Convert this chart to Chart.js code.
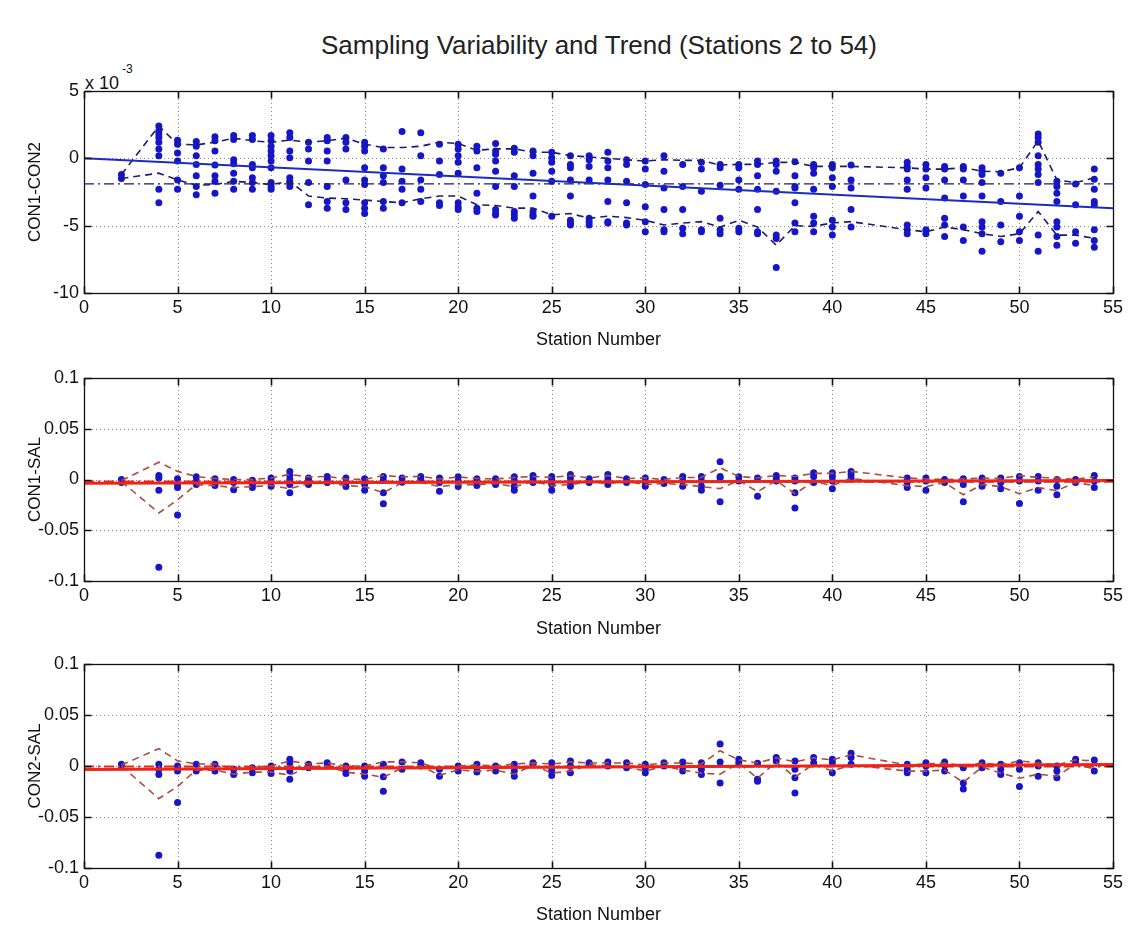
<!DOCTYPE html>
<html>
<head>
<meta charset="utf-8">
<script src="https://cdn.jsdelivr.net/npm/chart.js@4.4.1/dist/chart.umd.min.js"></script>
<style>
  html, body { margin: 0; padding: 0; background: #fff; }
  body { width: 1137px; height: 926px; position: relative; overflow: hidden;
         font-family: "Liberation Sans", Arial, Helvetica, sans-serif; color: #1a1a1a; }
  canvas { position: absolute; left: 0; }
  #title { position: absolute; left: 0; width: 1198px; top: 29px; text-align: center; font-size: 26px; line-height: 32px; color: #222; }
  #expo { position: absolute; left: 85px; top: 67px; font-size: 18px; line-height: 22px; color: #111; }
  #expo sup { font-size: 12px; position: relative; top: -9px; margin-left: 3px; }
</style>
</head>
<body>
<div id="title">Sampling Variability and Trend (Stations 2 to 54)</div>
<div id="expo">x 10<sup>-3</sup></div>
<canvas id="p1" width="1137" height="292" style="top:60px"></canvas>
<canvas id="p2" width="1137" height="288" style="top:352px"></canvas>
<canvas id="p3" width="1137" height="286" style="top:640px"></canvas>
<script>
// Stations sampled (3, 42 and 43 are absent)
const stations = [2,4,5,6,7,8,9,10,11,12,13,14,15,16,17,18,19,20,21,22,23,24,25,26,27,28,29,30,31,32,33,34,35,36,37,38,39,40,41,44,45,46,47,48,49,50,51,52,53,54];
const xTicks = [0,5,10,15,20,25,30,35,40,45,50,55];

// CON1-CON2 differences, in units of 1e-3, one list per station
const c12Points = [
  [-1.2,-1.5],
  [2.4,2.05,1.8,1.55,1.2,0.7,0.2,-2.3,-3.3],
  [1.35,1.05,0.4,-0.2,-1.6,-2.3],
  [1.25,0.9,0.2,-0.45,-1.3,-2.1,-2.7],
  [1.6,1.3,0.55,-0.5,-1.3,-1.7,-2.6],
  [1.7,1.4,-0.1,-0.4,-1.1,-1.7,-2.3],
  [1.7,1.4,-0.45,-0.7,-1.45,-1.8,-2.3],
  [1.7,1.3,0.9,0.55,0.2,-0.2,-0.7,-1.8,-2.1,-2.3],
  [1.9,1.55,0.55,0.05,-1.45,-1.7,-2.1],
  [1.2,0.7,-0.2,-1.8,-3.45],
  [1.55,1.3,0.55,-0.2,-2.1,-3.2,-3.7],
  [1.55,1.2,0.7,-1.6,-3.3,-3.8],
  [1.2,0.9,0.55,-0.7,-1.6,-1.95,-3.3,-3.7,-4.1],
  [0.7,-0.7,-1.3,-1.8,-3.2,-3.7],
  [2.0,-0.8,-1.7,-2.3,-3.3],
  [1.9,0.2,-1.6,-2.3,-3.2],
  [1.05,-0.2,-1.2,-3.3,-3.5],
  [1.05,0.7,0.2,-0.3,-1.1,-3.3,-3.6,-3.8],
  [0.9,0.55,-0.7,-2.6,-3.7,-3.95],
  [1.1,0.55,0.3,-0.2,-0.95,-2.1,-3.8,-4.1,-4.2],
  [0.75,0.45,-1.3,-2.1,-3.95,-4.2,-4.45],
  [0.55,0.2,-1.1,-2.8,-3.95,-4.2,-4.3],
  [0.45,0.05,-0.3,-0.95,-1.7,-4.3],
  [0.2,-0.45,-0.7,-1.6,-2.8,-4.6,-4.8,-4.95],
  [0.2,-0.1,-0.6,-1.6,-4.45,-4.7,-4.95],
  [0.45,-0.2,-0.7,-1.6,-3.2,-4.7,-4.8],
  [-0.1,-0.45,-1.7,-3.3,-4.8,-4.95],
  [-0.2,-0.8,-1.95,-3.6,-4.7,-5.45],
  [0.2,-0.95,-2.2,-3.8,-5.3,-5.45],
  [-0.45,-2.1,-3.8,-5.2,-5.6],
  [-0.3,-0.8,-2.45,-5.3,-5.45],
  [-0.45,-0.7,-2.0,-4.45,-5.3,-5.6],
  [-0.45,-0.7,-1.6,-2.3,-5.2,-5.45],
  [-0.2,-0.45,-1.3,-2.3,-3.8,-5.45,-5.6],
  [-0.2,-0.45,-0.95,-2.45,-5.7,-5.95,-8.1],
  [-0.25,-1.3,-2.1,-2.2,-3.3,-4.8,-5.45],
  [-0.45,-0.7,-1.1,-2.3,-4.3,-4.8,-5.45],
  [-0.45,-0.7,-1.45,-2.1,-4.6,-5.1,-5.7],
  [-0.5,-1.6,-2.2,-3.8,-5.1],
  [-0.3,-0.6,-0.8,-1.6,-2.3,-4.95,-5.3,-5.6],
  [-0.45,-0.8,-1.45,-2.2,-5.3,-5.6],
  [-0.6,-0.8,-1.6,-2.95,-4.45,-4.95,-5.8],
  [-0.6,-0.8,-1.6,-2.8,-5.1,-6.1],
  [-0.7,-0.95,-1.2,-1.8,-2.8,-4.7,-5.1,-5.6,-6.9],
  [-1.1,-3.2,-4.95,-6.2],
  [-0.7,-2.8,-4.3,-5.45,-6.1],
  [1.8,1.55,1.2,0.2,-0.45,-0.8,-1.2,-1.8,-5.7,-6.9],
  [-1.7,-2.1,-2.6,-3.2,-4.7,-5.1,-5.8,-6.45],
  [-1.9,-3.45,-5.45,-6.3],
  [-0.8,-1.55,-2.3,-3.2,-3.45,-5.3,-6.1,-6.6]
];
const c12Upper = [-1.2,2.4,1.05,1.0,1.2,1.5,1.3,1.2,1.35,1.2,1.3,1.5,1.05,0.8,0.8,0.9,1.2,1.1,0.6,0.7,0.7,0.45,0.45,0.2,0.1,0.0,-0.1,-0.2,-0.1,-0.15,-0.15,-0.5,-0.45,-0.45,-0.3,-0.3,-0.6,-0.6,-0.6,-0.7,-0.8,-0.8,-0.7,-0.95,-1.0,-0.7,1.3,-1.6,-1.8,-1.45];
const c12Lower = [-1.5,-1.1,-1.6,-2.0,-1.95,-1.7,-1.8,-1.95,-1.7,-2.8,-2.95,-3.0,-3.1,-3.2,-3.3,-3.0,-2.8,-2.8,-3.45,-3.5,-3.7,-3.7,-4.2,-4.1,-4.45,-4.3,-4.4,-4.6,-4.95,-4.8,-4.7,-5.1,-4.6,-5.1,-6.45,-5.0,-5.05,-4.8,-4.7,-5.3,-5.45,-5.1,-5.3,-5.6,-5.8,-5.6,-3.95,-5.7,-5.7,-5.95];
const c12Mean = -1.9;
const c12Trend = [0.0, -3.7];          // trend at station 0 and 55
const c12YTicks = [-10,-5,0,5];

// CON1-SAL differences per station
const c1sPoints = [
  [0,-0.003],
  [0.004,0.0016,-0.0105,-0.0865],
  [0.0007,-0.005,-0.008,-0.035],
  [0.0026,-0.0016,-0.005],
  [0.0007,-0.003,-0.006],
  [0,-0.003,-0.01],
  [-0.0007,-0.005,-0.008],
  [0.0016,-0.0016,-0.0066],
  [0.008,0.004,0,-0.005,-0.013],
  [0.0016,-0.0016,-0.005],
  [0.003,0,-0.003],
  [0.0016,-0.003,-0.007],
  [0.0007,-0.005,-0.0105],
  [0.003,-0.001,-0.013,-0.024],
  [0.0016,-0.0026],
  [0.003,0],
  [0.0016,-0.003,-0.0115],
  [0.0026,-0.0016,-0.007],
  [0.0007,-0.0016,-0.006],
  [0.0007,-0.0026,-0.005],
  [0.0026,-0.0016,-0.0066,-0.0105],
  [0.004,0.0007,-0.003],
  [0.003,0,-0.005,-0.0105],
  [0.005,0.0016,-0.0026,-0.0066],
  [0.0007,-0.003],
  [0.005,0.0007,-0.005],
  [0.0007,-0.003],
  [0.0016,-0.0026,-0.0066],
  [0,-0.004],
  [0.003,-0.0016,-0.0066],
  [0.003,-0.0016,-0.0066,-0.0105],
  [0.0175,0.003,0.0016,-0.022],
  [0.0026,-0.0016],
  [0.0016,-0.0165],
  [0.004,0.0016,-0.0016],
  [0.0016,-0.0016,-0.013,-0.028],
  [0.0066,0.003,-0.003],
  [0.0066,0.003,-0.0016,-0.009],
  [0.008,0.005,0.0016],
  [0.0016,-0.003,-0.008],
  [0.0016,-0.0016,-0.0105],
  [0,-0.003],
  [0.0007,-0.005,-0.022],
  [0.0016,-0.0016,-0.0066],
  [0.0016,-0.003,-0.009],
  [0.003,-0.0016,-0.0237],
  [0.003,-0.0016,-0.0105],
  [0,-0.0066,-0.015],
  [0,-0.003],
  [0.004,-0.0016,-0.008]
];
const c1sUpper = [-0.001,0.017,0.008,0.003,0.001,0.0,0.0,0.0015,0.005,0.0025,0.003,0.0005,0.0,0.004,0.0025,0.003,0.0005,0.0025,0.001,0.0005,0.002,0.003,0.002,0.004,0.0015,0.004,0.001,0.0015,0.0,0.002,0.002,0.0115,0.003,0.0015,0.004,0.003,0.006,0.006,0.008,0.0015,0.0005,0.0,0.0005,0.0015,0.001,0.004,0.002,0.0015,0.0,0.003];
const c1sLower = [-0.002,-0.033,-0.02,-0.005,-0.006,-0.008,-0.007,-0.006,-0.009,-0.004,-0.003,-0.006,-0.007,-0.013,-0.003,-0.003,-0.007,-0.005,-0.005,-0.004,-0.007,-0.002,-0.006,-0.005,-0.002,-0.004,-0.002,-0.005,-0.004,-0.005,-0.007,-0.009,-0.001,-0.012,-0.001,-0.014,-0.002,-0.006,0.001,-0.006,-0.007,-0.003,-0.015,-0.005,-0.007,-0.014,-0.008,-0.011,-0.003,-0.006];
const c1sMean = -0.002;
const c1sTrend = [-0.0038, -0.001];
const salYTicks = [-0.1,-0.05,0,0.05,0.1];

// CON2-SAL differences per station
const c2sPoints = [
  [0.0017,0],
  [0.0017,-0.0033,-0.0083,-0.0875],
  [0,-0.005,-0.0357],
  [0.0017,-0.005],
  [0.0017,-0.005],
  [-0.0033,-0.0083],
  [-0.0017,-0.0066],
  [0,-0.0033,-0.0073],
  [0.0066,0.0033,-0.005,-0.013],
  [0.0017,-0.0017],
  [0.0033,0],
  [0,-0.0033,-0.0073],
  [0,-0.005,-0.01],
  [0.0017,-0.0106,-0.0248],
  [0.004,-0.0033],
  [0.0033,0],
  [-0.0033,-0.01],
  [0,-0.005],
  [0.0017,-0.0017,-0.006],
  [0,-0.005],
  [0.0017,-0.005,-0.01],
  [0.0033,0.0017],
  [0.0033,-0.0017,-0.005,-0.0093],
  [0.005,0,-0.0066],
  [0.0033,0.0017],
  [0.004,0],
  [0.0033,-0.0017],
  [0.0017,-0.0026,-0.0066],
  [0.0033,0],
  [0.004,-0.0007,-0.005],
  [0.0033,-0.0033,-0.0083],
  [0.0215,0.004,-0.0166],
  [0.0066,0.0033],
  [0.0026,-0.013,-0.015],
  [0.0083,0.005],
  [0.005,-0.0033,-0.0116,-0.0265],
  [0.0083,0.0033],
  [0.0066,0.0033,-0.0066],
  [0.0126,0.0083,0.0017],
  [0.0017,-0.0033,-0.0066],
  [0.0033,0,-0.0066],
  [0.004,0.0007,-0.005],
  [-0.0017,-0.0166,-0.0225],
  [0.0033,-0.0017],
  [0.0017,-0.0033,-0.0083],
  [0.0033,-0.0033,-0.02],
  [0.0033,0,-0.01],
  [0,-0.005,-0.0116],
  [0.0066,0.0033],
  [0.006,-0.005]
];
const c2sUpper = [0.001,0.017,0.005,0.002,0.002,-0.003,-0.001,0.0,0.005,0.002,0.003,0.0,0.0,0.004,0.004,0.003,-0.003,0.0,0.001,0.0,0.002,0.003,0.002,0.004,0.003,0.003,0.003,0.001,0.003,0.003,0.002,0.015,0.006,0.003,0.008,0.004,0.008,0.006,0.011,0.001,0.002,0.003,0.0,0.003,0.001,0.005,0.003,0.001,0.006,0.005];
const c2sLower = [0.0,-0.032,-0.02,-0.004,-0.004,-0.008,-0.006,-0.006,-0.009,-0.001,0.0,-0.006,-0.008,-0.011,-0.002,0.0,-0.009,-0.004,-0.005,-0.004,-0.008,0.001,-0.007,-0.005,0.001,0.0,-0.001,-0.005,0.0,-0.004,-0.007,-0.008,0.003,-0.012,0.004,-0.011,0.002,-0.005,0.001,-0.005,-0.005,-0.004,-0.016,-0.001,-0.007,-0.012,-0.008,-0.01,0.002,-0.003];
const c2sMean = -0.0005;
const c2sTrend = [-0.0035, 0.0015];

const FONT = '"Liberation Sans", Arial, Helvetica, sans-serif';

// MATLAB-style box: dotted grid under the data, frame and inward ticks on top
const boxAxes = {
  id: 'boxAxes',
  beforeDatasetsDraw(chart) {
    const { ctx, chartArea: a, scales: { x, y } } = chart;
    ctx.save();
    ctx.strokeStyle = '#8a8a8a';
    ctx.lineWidth = 1;
    ctx.setLineDash([1, 3]);
    ctx.beginPath();
    x.ticks.forEach(t => {
      const p = Math.round(x.getPixelForValue(t.value)) + 0.5;
      if (p > a.left + 2 && p < a.right - 2) { ctx.moveTo(p, a.top); ctx.lineTo(p, a.bottom); }
    });
    y.ticks.forEach(t => {
      const p = Math.round(y.getPixelForValue(t.value)) + 0.5;
      if (p > a.top + 2 && p < a.bottom - 2) { ctx.moveTo(a.left, p); ctx.lineTo(a.right, p); }
    });
    ctx.stroke();
    ctx.restore();
  },
  afterDatasetsDraw(chart) {
    const { ctx, chartArea: a, scales: { x, y } } = chart;
    const L = Math.round(a.left) + 0.5, R = Math.round(a.right) + 0.5;
    const T = Math.round(a.top) + 0.5, B = Math.round(a.bottom) + 0.5;
    ctx.save();
    ctx.strokeStyle = '#111';
    ctx.lineWidth = 1.3;
    ctx.setLineDash([]);
    ctx.strokeRect(L, T, R - L, B - T);
    ctx.lineWidth = 1.6;
    ctx.beginPath();
    const tl = 7;
    x.ticks.forEach(t => {
      const p = Math.round(x.getPixelForValue(t.value)) + 0.5;
      ctx.moveTo(p, B); ctx.lineTo(p, B - tl);
      ctx.moveTo(p, T); ctx.lineTo(p, T + tl);
    });
    y.ticks.forEach(t => {
      const p = Math.round(y.getPixelForValue(t.value)) + 0.5;
      ctx.moveTo(L, p); ctx.lineTo(L + tl, p);
      ctx.moveTo(R, p); ctx.lineTo(R - tl, p);
    });
    ctx.stroke();
    ctx.restore();
  }
};

function toXY(lists) {
  const out = [];
  lists.forEach((vals, i) => vals.forEach(v => out.push({ x: stations[i], y: v })));
  return out;
}
function series(vals) {
  return vals.map((v, i) => ({ x: stations[i], y: v }));
}
function fmt(v) {
  return String(Number(v.toFixed(4)));
}

function makePanel(id, p) {
  const ds = [
    { label: 'samples', data: toXY(p.points), showLine: false, pointRadius: 3.5, pointHoverRadius: 3.5,
      pointBackgroundColor: '#1616c8', pointBorderColor: '#1616c8', pointBorderWidth: 0, order: 5 },
    { label: 'upper', data: series(p.upper), showLine: true, pointRadius: 0, borderColor: p.envColor,
      borderWidth: 1.6, borderDash: [7, 5], tension: 0, order: 4 },
    { label: 'lower', data: series(p.lower), showLine: true, pointRadius: 0, borderColor: p.envColor,
      borderWidth: 1.6, borderDash: [7, 5], tension: 0, order: 3 },
    { label: 'mean', data: [{ x: 0, y: p.mean }, { x: 55, y: p.mean }], showLine: true, pointRadius: 0,
      borderColor: p.meanColor, borderWidth: p.meanWidth, borderDash: [10, 4, 2, 4], order: 2 },
    { label: 'trend', data: [{ x: 0, y: p.trend[0] }, { x: 55, y: p.trend[1] }], showLine: true, pointRadius: 0,
      borderColor: p.trendColor, borderWidth: p.trendWidth, order: 1 }
  ];
  return new Chart(document.getElementById(id), {
    type: 'scatter',
    data: { datasets: ds },
    options: {
      responsive: false,
      animation: false,
      events: [],
      layout: { padding: { left: 0, right: 24, top: p.padTop, bottom: 0 } },
      plugins: { legend: { display: false }, tooltip: { enabled: false } },
      scales: {
        x: {
          type: 'linear', min: 0, max: 55,
          afterBuildTicks: s => { s.ticks = xTicks.map(v => ({ value: v })); },
          afterFit: s => { s.height = p.xHeight; },
          grid: { display: false, drawTicks: false },
          border: { display: false },
          ticks: { color: '#111', font: { family: FONT, size: 18 }, padding: 4, maxRotation: 0, autoSkip: false, callback: v => fmt(v) },
          title: { display: true, text: 'Station Number', color: '#111', font: { family: FONT, size: 18 }, padding: { top: 0, bottom: p.titlePad } }
        },
        y: {
          type: 'linear', min: p.yMin, max: p.yMax,
          afterBuildTicks: s => { s.ticks = p.yTicks.map(v => ({ value: v })); },
          afterFit: s => { s.width = 84; },
          grid: { display: false, drawTicks: false },
          border: { display: false },
          ticks: { color: '#111', font: { family: FONT, size: 18 }, padding: 5, callback: v => fmt(v) },
          title: { display: true, text: p.yTitle, color: '#111', font: { family: FONT, size: 17 }, padding: { top: 25, bottom: 0 } }
        }
      }
    },
    plugins: [boxAxes]
  });
}

makePanel('p1', {
  points: c12Points, upper: c12Upper, lower: c12Lower, mean: c12Mean, trend: c12Trend,
  yMin: -10, yMax: 5, yTicks: c12YTicks, yTitle: 'CON1-CON2',
  envColor: '#1c1c70', meanColor: '#1c1c60', meanWidth: 1.3, trendColor: '#1c2cc0', trendWidth: 2,
  padTop: 31, xHeight: 59, titlePad: 1
});
makePanel('p2', {
  points: c1sPoints, upper: c1sUpper, lower: c1sLower, mean: c1sMean, trend: c1sTrend,
  yMin: -0.1, yMax: 0.1, yTicks: salYTicks, yTitle: 'CON1-SAL',
  envColor: '#b04a3c', meanColor: '#e42a1c', meanWidth: 2.2, trendColor: '#ee2418', trendWidth: 3,
  padTop: 26, xHeight: 59, titlePad: 0
});
makePanel('p3', {
  points: c2sPoints, upper: c2sUpper, lower: c2sLower, mean: c2sMean, trend: c2sTrend,
  yMin: -0.1, yMax: 0.1, yTicks: salYTicks, yTitle: 'CON2-SAL',
  envColor: '#b04a3c', meanColor: '#e42a1c', meanWidth: 2.2, trendColor: '#ee2418', trendWidth: 3,
  padTop: 24, xHeight: 58, titlePad: 0
});
</script>
</body>
</html>
